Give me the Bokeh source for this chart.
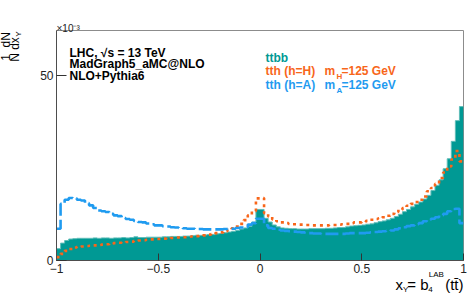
import numpy as np
from bokeh.plotting import figure
from bokeh.models import Range1d, FixedTicker, Label, Arrow
from bokeh.embed import file_html
from bokeh.resources import INLINE

# ---------------- data (units of 1e-3) ----------------
bin_edges = [round(-1 + 0.02 * i, 2) for i in range(101)]

ttbb = [3.2, 4.7, 5.4, 5.8, 5.9, 6.0, 6.0, 6.0, 6.0, 6.1,
        6.0, 6.1, 6.1, 6.0, 6.1, 6.1, 6.2, 6.1, 6.2, 6.4,
        6.2, 6.2, 6.3, 6.3, 6.3, 6.3, 6.4, 6.4, 6.5, 6.5,
        6.5, 6.6, 6.6, 6.7, 6.8, 6.8, 6.9, 7.0, 7.0, 7.2,
        7.3, 7.5, 7.7, 7.9, 8.1, 8.5, 8.8, 9.2, 10.4, 13.8,
        13.8, 11.4, 10.4, 9.6, 9.1, 8.8, 8.7, 8.6, 8.6, 8.5,
        8.5, 8.5, 8.6, 8.6, 8.6, 8.6, 8.7, 8.7, 8.8, 8.9,
        8.9, 9.1, 9.3, 9.4, 9.5, 9.6, 9.8, 9.9, 10.2, 10.5,
        10.7, 11.0, 11.4, 11.9, 12.5, 13.2, 13.8, 14.5, 15.2, 15.8,
        16.6, 17.6, 18.9, 20.3, 21.8, 24.8, 27.5, 32.2, 37.8, 41.6]

tth_H = [0.9, 1.8, 2.6, 3.1, 3.5, 3.7, 3.8, 3.9, 4.0, 4.1,
         4.2, 4.3, 4.4, 4.6, 4.7, 4.8, 4.9, 5.0, 5.1, 5.3,
         5.4, 5.5, 5.6, 5.7, 5.8, 5.8, 5.9, 6.0, 6.1, 6.2,
         6.2, 6.3, 6.4, 6.5, 6.6, 6.7, 6.8, 7.0, 7.2, 7.4,
         7.6, 7.9, 8.3, 8.7, 9.2, 9.9, 10.9, 12.2, 13.3, 16.8,
         16.9, 12.8, 11.9, 11.1, 10.6, 10.3, 10.1, 9.9, 9.8, 9.7,
         9.7, 9.6, 9.6, 9.5, 9.5, 9.5, 9.5, 9.6, 9.6, 9.7,
         9.8, 9.9, 10.1, 10.3, 10.3, 10.4, 10.7, 11.0, 11.2, 11.4,
         11.7, 12.1, 12.6, 13.1, 13.7, 14.2, 14.8, 15.3, 15.8, 16.4,
         17.3, 18.7, 19.6, 20.7, 22.3, 23.8, 25.4, 27.3, 29.6, 26.8]

tth_A = [8.6, 15.3, 16.4, 16.9, 16.8, 16.4, 16.2, 15.5, 14.9, 14.2,
         13.5, 13.3, 13.1, 12.6, 12.2, 12.0, 11.5, 11.2, 11.0, 10.7,
         10.4, 10.3, 10.0, 9.8, 9.5, 9.5, 9.3, 9.2, 9.0, 8.9,
         8.8, 8.7, 8.6, 8.6, 8.5, 8.5, 8.4, 8.4, 8.4, 8.4,
         8.4, 8.5, 8.6, 8.6, 8.8, 8.9, 9.0, 9.7, 10.1, 11.3,
         11.3, 9.5, 8.8, 8.6, 8.3, 8.1, 8.0, 7.9, 7.8, 7.7,
         7.6, 7.5, 7.4, 7.3, 7.3, 7.2, 7.2, 7.2, 7.2, 7.2,
         7.2, 7.3, 7.4, 7.4, 7.4, 7.4, 7.5, 7.6, 7.7, 7.8,
         7.9, 8.0, 8.1, 8.4, 8.7, 9.0, 9.3, 9.5, 9.8, 10.1,
         10.6, 11.0, 11.3, 11.7, 12.2, 12.6, 13.3, 13.9, 14.0, 10.1]

x_ticks = [-1, -0.5, 0, 0.5, 1]
x_tick_labels = ["\u22121", "\u22120.5", "0", "0.5", "1"]
y_ticks = [0, 50]
y_max = 62.16

TEAL = "#009994"
ORANGE = "#F8661A"
BLUE = "#1F9BF0"
FONT = "Liberation Sans"
W, H = 473, 300
FL, FR, FT, FB = 56, 463, 30, 260   # frame edges in page pixels
NB = "\u00a0"

# ---------------- figure ----------------
p = figure(width=W, height=H, output_backend="svg", toolbar_location=None,
           x_range=Range1d(-1, 1), y_range=Range1d(0, y_max),
           min_border_left=FL, min_border_right=W - FR, min_border_top=FT,
           min_border_bottom=H - FB)
p.grid.visible = False
p.outline_line_color = "#8c8c8c"
p.outline_line_width = 1
p.background_fill_color = "white"
p.border_fill_color = "white"

def step_y(vals):
    return list(vals) + [vals[-1]]

p.varea_step(x=bin_edges, y1=[0] * 101, y2=step_y(ttbb), step_mode="after",
             fill_color=TEAL)
p.step(bin_edges, step_y(ttbb), mode="after", line_color="#5fbdb8", line_width=1)
p.step(bin_edges, step_y(tth_H), mode="after", line_color=ORANGE,
       line_width=2.6, line_dash="3 4")
p.step(bin_edges, step_y(tth_A), mode="after", line_color=BLUE,
       line_width=2.6, line_dash="13 4")

for ax in (p.xaxis, p.yaxis):
    ax.axis_line_color = "#4d4d4d"
    ax.major_tick_line_color = "#333333"
    ax.minor_tick_line_color = None
    ax.major_tick_out = 0
    ax.major_label_text_font = FONT
    ax.major_label_text_font_size = "12px"
    ax.major_label_text_color = "#222222"

p.xaxis.ticker = FixedTicker(ticks=x_ticks, minor_ticks=[])
p.xaxis.major_label_overrides = {t: l for t, l in zip(x_ticks, x_tick_labels)}
p.xaxis.major_tick_in = 7
p.xaxis.major_label_standoff = 3
p.yaxis.ticker = FixedTicker(ticks=y_ticks, minor_ticks=[])
p.yaxis.major_tick_in = 10
p.yaxis.major_label_standoff = 3

# ---------------- texts (canvas pixels, top-left origin) ----------------
def lab(text, px, py, size, color="black", bold=False, align="left",
        baseline="alphabetic", angle=0, side=None):
    lbl = Label(x=px, y=py, x_units="canvas", y_units="canvas",
                text=text, text_font=FONT, text_font_size=f"{size}px",
                text_color=color, text_font_style="bold" if bold else "normal",
                text_align=align, text_baseline=baseline, angle=angle,
                level="overlay")
    if side is None:
        p.add_layout(lbl)
    else:
        p.add_layout(lbl, side)

# x10^-3 (above the frame)
lab("\u00d710\u207b\u00b3", 56, 28, 10, "#222222", side="above")

# header
lab("LHC, \u221as = 13 TeV", 69, 52, 12, bold=True)
lab("MadGraph5_aMC@NLO", 69, 63.5, 12, bold=True)
lab("NLO+Pythia6", 69, 75, 12, bold=True)

# legend
lab("ttbb", 265, 57.3, 12, TEAL, bold=True)
lab("tth (h=H)", 265, 70.7, 12, ORANGE, bold=True)
lab("m", 324, 70.7, 12, ORANGE, bold=True)
lab("H", 336, 76, 8, ORANGE, bold=True)
lab("=125 GeV", 341, 70.7, 12, ORANGE, bold=True)
lab("tth (h=A)", 265, 84.3, 12, BLUE, bold=True)
lab("m", 324, 84.3, 12, BLUE, bold=True)
lab("A", 336, 90, 8, BLUE, bold=True)
lab("=125 GeV", 341, 84.3, 12, BLUE, bold=True)

# x axis title: x_Y = b_4^LAB(tt)  (below the frame)
lab("x" + NB + "=" + NB + "b" + NB * 4 + "(tt\u0304)", 463, 284, 15,
    align="right", side="below")
lab("Y" + NB * 9 + "4", 402.5, 289, 8, side="above")
lab("LAB", 428.3, 273.5, 8, side="above")

# y axis title: 1/N dN/dx_Y  (rotated, left of the frame)
rot = np.pi / 2
lab("1" + NB * 2 + "dN", 5, 46, 12, align="center", baseline="middle",
    angle=rot, side="left")
lab("N" + NB + "dx", 14, 49, 12, align="center", baseline="middle",
    angle=rot, side="left")
lab("Y", 17.5, 33.5, 8, align="center", baseline="middle", angle=rot, side="left")
for (ya, yb) in ((30, 50.5), (52.5, 62)):
    p.add_layout(Arrow(x_start=9.5, y_start=ya, x_end=9.5, y_end=yb,
                       start_units="canvas", end_units="canvas", level="overlay",
                       end=None, start=None, line_color="black", line_width=1),
                 "left")

open("out.html", "w").write(file_html(p, INLINE))
